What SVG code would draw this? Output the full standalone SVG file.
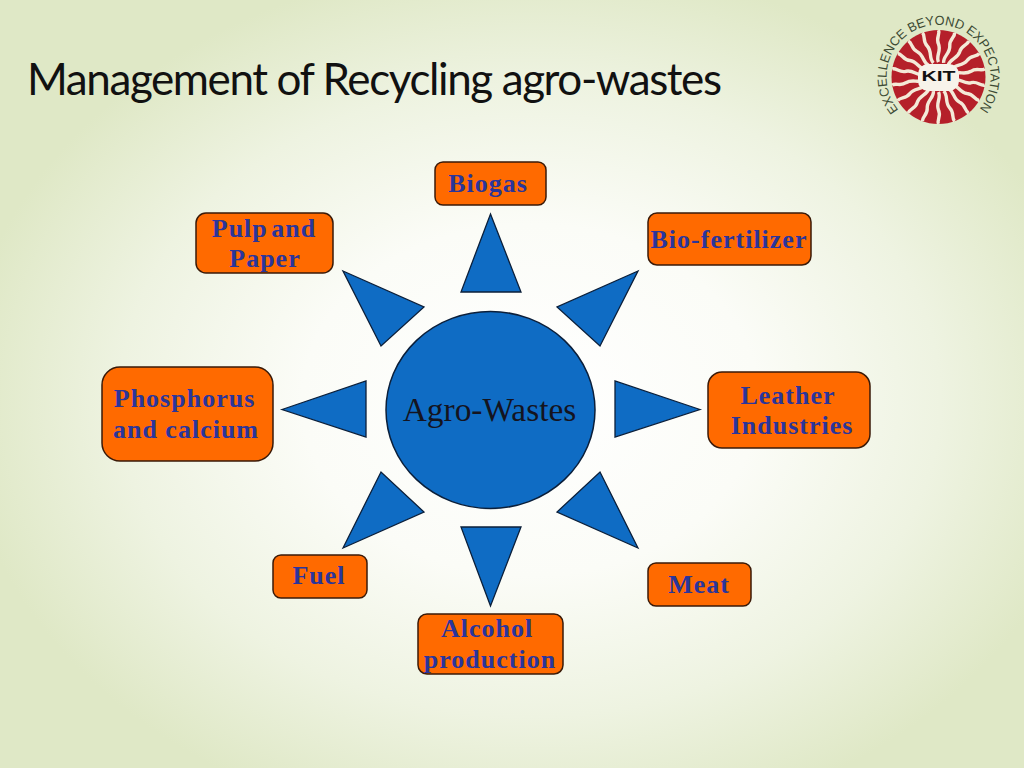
<svg xmlns="http://www.w3.org/2000/svg" xmlns:xlink="http://www.w3.org/1999/xlink" width="1024" height="768" viewBox="0 0 1024 768">
<defs>
<radialGradient id="bg" gradientUnits="userSpaceOnUse" cx="530" cy="400" r="1" gradientTransform="translate(530 400) scale(570 440) translate(-530 -400)">
<stop offset="0" stop-color="#ffffff"/>
<stop offset="0.4" stop-color="#fbfcf7"/>
<stop offset="0.72" stop-color="#eef3e1"/>
<stop offset="1" stop-color="#dfe8c6"/>
</radialGradient>
<path id="ray" d="M0-15C-3-21 3-26 0-33C-3-39 2-43 0-47" fill="none" stroke="#f4ead8" stroke-width="3.4"/>
<path id="arc" d="M898.500 110A52 52 0 1 1 978.500 110"/>
</defs>
<style>
.box{fill:#ff6a00;stroke:#3a1a08;stroke-width:1.5}
.tri{fill:#0f6cc4;stroke:#0b1f3a;stroke-width:1.3}
.lbl{font-family:"Liberation Serif","Times New Roman",serif;font-weight:700;font-size:26px;fill:#2a359b;text-anchor:middle;letter-spacing:1px}
</style>
<rect width="1024" height="768" fill="url(#bg)"/>
<text id="title" x="27" y="95" font-family="Lato,Carlito,sans-serif" font-size="44" fill="#111" textLength="695" lengthAdjust="spacing">Management of Recycling agro-wastes</text>
<g id="logo">
<circle cx="938.500" cy="77" r="47" fill="#b5202a"/>
<g id="rays">
<use xlink:href="#ray" transform="translate(938.500 77)"/>
<use xlink:href="#ray" transform="translate(938.500 77) rotate(20)"/>
<use xlink:href="#ray" transform="translate(938.500 77) rotate(40)"/>
<use xlink:href="#ray" transform="translate(938.500 77) rotate(60)"/>
<use xlink:href="#ray" transform="translate(938.500 77) rotate(80)"/>
<use xlink:href="#ray" transform="translate(938.500 77) rotate(100)"/>
<use xlink:href="#ray" transform="translate(938.500 77) rotate(120)"/>
<use xlink:href="#ray" transform="translate(938.500 77) rotate(140)"/>
<use xlink:href="#ray" transform="translate(938.500 77) rotate(160)"/>
<use xlink:href="#ray" transform="translate(938.500 77) rotate(180)"/>
<use xlink:href="#ray" transform="translate(938.500 77) rotate(200)"/>
<use xlink:href="#ray" transform="translate(938.500 77) rotate(220)"/>
<use xlink:href="#ray" transform="translate(938.500 77) rotate(240)"/>
<use xlink:href="#ray" transform="translate(938.500 77) rotate(260)"/>
<use xlink:href="#ray" transform="translate(938.500 77) rotate(280)"/>
<use xlink:href="#ray" transform="translate(938.500 77) rotate(300)"/>
<use xlink:href="#ray" transform="translate(938.500 77) rotate(320)"/>
<use xlink:href="#ray" transform="translate(938.500 77) rotate(340)"/>
</g>
<rect x="918" y="64" width="41" height="27" rx="10" fill="#f7f3ea"/>
<text x="938.500" y="81" font-family="Liberation Sans,sans-serif" font-weight="700" font-size="15" fill="#111" text-anchor="middle" textLength="34" lengthAdjust="spacingAndGlyphs">KIT</text>
<text font-family="Liberation Sans,sans-serif" font-size="13" fill="#3c4a33"><textPath xlink:href="#arc" textLength="234" lengthAdjust="spacingAndGlyphs">EXCELLENCE BEYOND EXPECTATION</textPath></text>
</g>
<g id="connectors">
<polygon class="tri" points="490.500,214 521,292 461,292"/>
<polygon class="tri" points="343,271 424,307 381,346"/>
<polygon class="tri" points="638,271 557,307 600,346"/>
<polygon class="tri" points="700,409.500 615,381 615,437"/>
<polygon class="tri" points="282,409.500 366,381 366,437"/>
<polygon class="tri" points="343,548 381,472 424,512"/>
<polygon class="tri" points="638,548 600,472 557,512"/>
<polygon class="tri" points="490.500,606 461,527 521,527"/>
</g>
<g id="hub">
<ellipse cx="490.500" cy="410" rx="104.500" ry="98.500" fill="#0f6cc4" stroke="#0b1f3a" stroke-width="1.500"/>
<text x="489.500" y="421" font-family="Liberation Serif,serif" font-size="33.400" fill="#14141f" text-anchor="middle">Agro-Wastes</text>
</g>
<g id="biogas"><rect class="box" x="435" y="162" width="111" height="43" rx="8"/><text class="lbl" x="488" y="191.500">Biogas</text></g>
<g id="pulp"><rect class="box" x="196" y="213" width="137" height="60" rx="10"/><text class="lbl" x="264" y="236.500" word-spacing="-4">Pulp and</text><text class="lbl" x="265" y="266.500" letter-spacing="0.700">Paper</text></g>
<g id="biofert"><rect class="box" x="648" y="213" width="163" height="52" rx="9"/><text class="lbl" x="729" y="247.500" letter-spacing="0">Bio-fertilizer</text></g>
<g id="phos"><rect class="box" x="102" y="367" width="171" height="94" rx="18"/><text class="lbl" x="184.500" y="406.500" letter-spacing="1.400">Phosphorus</text><text class="lbl" x="186" y="437.500">and calcium</text></g>
<g id="leather"><rect class="box" x="708" y="372" width="162" height="76" rx="14"/><text class="lbl" x="788" y="403.500" letter-spacing="0.700">Leather</text><text class="lbl" x="792" y="433.500">Industries</text></g>
<g id="fuel"><rect class="box" x="273" y="555" width="94" height="43" rx="8"/><text class="lbl" x="319" y="584" letter-spacing="0.500">Fuel</text></g>
<g id="meat"><rect class="box" x="648" y="563" width="103" height="43" rx="8"/><text class="lbl" x="699" y="592.500" letter-spacing="0.500">Meat</text></g>
<g id="alcohol"><rect class="box" x="418" y="614" width="145" height="60" rx="9"/><text class="lbl" x="487" y="636.500">Alcohol</text><text class="lbl" x="490" y="667.500">production</text></g>
</svg>
